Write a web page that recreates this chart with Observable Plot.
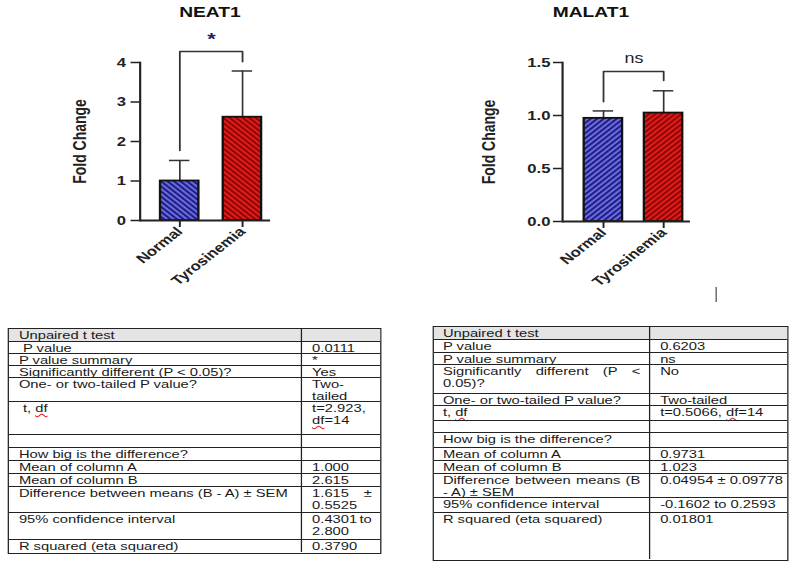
<!DOCTYPE html>
<html><head><meta charset="utf-8">
<script src="https://cdn.jsdelivr.net/npm/d3@7"></script>
<script src="https://cdn.jsdelivr.net/npm/@observablehq/plot@0.6"></script>
<style>
html,body{margin:0;padding:0;background:#fff;}
#root{position:absolute;left:0;top:0;width:621px;height:567px;transform:scaleX(1.28);transform-origin:0 0;font-family:"Liberation Sans",Arial,sans-serif;color:#1a1a1a;overflow:visible;}
.title{position:absolute;top:4px;width:100px;font-weight:bold;font-size:15px;line-height:15px;text-align:center;color:#111;}
.chart{position:absolute;top:0;}
.chart svg{overflow:visible;}
.tbl{position:absolute;border:1.5px solid #222;box-sizing:border-box;}
.row{position:absolute;left:0;right:0;border-top:1px solid #222;box-sizing:border-box;}
.row.first{border-top:none;}
.cell{position:absolute;top:0;bottom:0;padding:0 7px 0 7.5px;font-size:11.5px;line-height:12px;white-space:pre;box-sizing:border-box;overflow:visible;}
.cell.b{border-left:1.2px solid #222;}
.head{background:#e4e4e4;}
.sq{text-decoration:underline wavy #e02020;text-decoration-thickness:1px;text-underline-offset:1px;}
.just{display:flex;justify-content:space-between;}
.mark{position:absolute;background:#555;}
</style></head>
<body>
<svg width="0" height="0" style="position:absolute">
  <defs>
    <pattern id="nb" width="3.6" height="3.6" patternUnits="userSpaceOnUse" patternTransform="rotate(-45)">
      <rect width="3.6" height="3.6" fill="#6c6ce6"/><rect width="1.8" height="3.6" fill="#1d1d7c"/>
    </pattern>
    <pattern id="nr" width="3.6" height="3.6" patternUnits="userSpaceOnUse" patternTransform="rotate(-45)">
      <rect width="3.6" height="3.6" fill="#e41c1c"/><rect width="1.8" height="3.6" fill="#8c0606"/>
    </pattern>
    <pattern id="mb" width="3.6" height="3.6" patternUnits="userSpaceOnUse" patternTransform="rotate(45)">
      <rect width="3.6" height="3.6" fill="#6c6ce6"/><rect width="1.8" height="3.6" fill="#1d1d7c"/>
    </pattern>
    <pattern id="mr" width="3.6" height="3.6" patternUnits="userSpaceOnUse" patternTransform="rotate(45)">
      <rect width="3.6" height="3.6" fill="#e41c1c"/><rect width="1.8" height="3.6" fill="#8c0606"/>
    </pattern>
  </defs>
</svg>
<div id="root"></div>
<script>
// ---------------- data ----------------
const groups = ["Normal", "Tyrosinemia"];
const chartTitles = ["NEAT1", "MALAT1"];
const yLabel = "Fold Change";

const neatMean = [1.000, 2.615];
const neatErr = [0.52, 1.17];
const neatTicks = [0, 1, 2, 3, 4];
const neatBracket = [1.77, 4.28, 4.02];   // left leg end, bar top, right leg end
const neatSig = "*";
const neatSigY = 4.58;

const malatMean = [0.9731, 1.023];
const malatErr = [0.07, 0.21];
const malatTicks = [0, 0.5, 1.0, 1.5];
const malatBracket = [1.13, 1.415, 1.33];
const malatSig = "ns";
const malatSigY = 1.54;

const leftColA = ["Unpaired t test", " P value", "P value summary", "Significantly different (P < 0.05)?",
  "One- or two-tailed P value?", " t, df", "", "How big is the difference?", "Mean of column A",
  "Mean of column B", "Difference between means (B - A) ± SEM", "95% confidence interval", "R squared (eta squared)"];
const leftColB = ["", "0.0111", "*", "Yes", "Two-\ntailed", "t=2.923,\ndf=14", "", "", "1.000", "2.615",
  "1.615 ±\n0.5525", "0.4301 to\n2.800", "0.3790"];

const rightColA = ["Unpaired t test", "P value", "P value summary", "Significantly different (P <\n0.05)?",
  "One- or two-tailed P value?", "t, df", "", "How big is the difference?", "Mean of column A",
  "Mean of column B", "Difference between means (B\n- A) ± SEM", "95% confidence interval", "R squared (eta squared)"];
const rightColB = ["", "0.6203", "ns", "No", "Two-tailed", "t=0.5066, df=14", "", "", "0.9731", "1.023",
  "0.04954 ± 0.09778", "-0.1602 to 0.2593", "0.01801"];

// ---------------- layout ----------------
const root = document.getElementById("root");

function addTitle(text, cx) {
  const d = document.createElement("div");
  d.className = "title";
  d.style.left = (cx - 50) + "px";
  d.textContent = text;
  root.appendChild(d);
}

function barChart(o) {
  const rows = groups.map((g, i) => ({g, m: o.mean[i], top: o.mean[i] + o.err[i]}));
  const br = [
    {g: groups[0], y: o.bracket[0]}, {g: groups[0], y: o.bracket[1]},
    {g: groups[1], y: o.bracket[1]}, {g: groups[1], y: o.bracket[2]}
  ];
  const step = (o.range[1] - o.range[0]) / (2 - o.pi);
  const H = 300;
  const svg = Plot.plot({
    width: o.width, height: H,
    marginLeft: o.ml, marginRight: o.mr, marginTop: o.mt, marginBottom: H - o.y0,
    style: {fontFamily: "'Liberation Sans', Arial, sans-serif", fontSize: "12px", fontWeight: "bold", color: "#222", background: "transparent", overflow: "visible"},
    x: {domain: groups, range: o.range, paddingInner: o.pi, paddingOuter: 0, label: null},
    y: {domain: o.domain, label: null},
    marks: [
      Plot.axisY({ticks: o.ticks, tickFormat: o.fmt, tickSize: 7, tickPadding: o.tp, strokeWidth: 1.5, label: null, fontSize: 13}),
      Plot.axisX({tickSize: 7, tickRotate: -45, tickPadding: 2, strokeWidth: 1.5, label: null, fontSize: 13}),
      Plot.text([yLabel], {text: d => d, frameAnchor: "left", dx: o.labelDx, rotate: -90, lineAnchor: "top", textAnchor: "middle", fontSize: 14, fontWeight: "bold", fill: "#222"}),
      Plot.ruleX(rows, {x: "g", y1: "m", y2: "top", stroke: "#333", strokeWidth: 1.3}),
      Plot.tickY(rows, {x: "g", y: "top", inset: 7, stroke: "#333", strokeWidth: 1.5}),
      Plot.barY(rows, {filter: d => d.g === groups[0], x: "g", y: "m", fill: o.fills[0], stroke: "#111", strokeWidth: 1.8}),
      Plot.barY(rows, {filter: d => d.g === groups[1], x: "g", y: "m", fill: o.fills[1], stroke: "#111", strokeWidth: 1.8}),
      Plot.frame({anchor: "left", stroke: "#222", strokeWidth: 1.7}),
      Plot.ruleY([0], {stroke: "#222", strokeWidth: 2}),
      Plot.line(br, {x: "g", y: "y", stroke: "#333", strokeWidth: 1.4}),
      Plot.text([{g: groups[0], y: o.sigY, t: o.sig}], {x: "g", y: "y", text: "t", dx: step / 2, fontSize: o.sigSize, fontWeight: o.sigWeight, fill: o.sigColor})
    ]
  });
  const wrap = document.createElement("div");
  wrap.className = "chart";
  wrap.style.left = o.left + "px";
  wrap.appendChild(svg);
  root.appendChild(wrap);
}

addTitle(chartTitles[0], 164);
addTitle(chartTitles[1], 461.7);

barChart({
  left: 40, width: 190, ml: 69, mr: 19, mt: 62, y0: 220,
  range: [85, 164], pi: 0.396,
  mean: neatMean, err: neatErr, domain: [0, 4], ticks: neatTicks, fmt: d3.format("d"), tp: 4,
  bracket: neatBracket, sig: neatSig, sigY: neatSigY, sigSize: 17, sigWeight: "bold", sigColor: "#1a2660",
  fills: ["url(#nb)", "url(#nr)"], labelDx: -52
});

barChart({
  left: 360, width: 190, ml: 79, mr: 11, mt: 62, y0: 221,
  range: [95.5, 173.6], pi: 0.36,
  mean: malatMean, err: malatErr, domain: [0, 1.5], ticks: malatTicks, fmt: d3.format(".1f"), tp: 2.5,
  bracket: malatBracket, sig: malatSig, sigY: malatSigY, sigSize: 14, sigWeight: "normal", sigColor: "#222",
  fills: ["url(#mb)", "url(#mr)"], labelDx: -63
});

// small vertical mark right of MALAT1
const mk = document.createElement("div");
mk.className = "mark";
Object.assign(mk.style, {left: "558.6px", top: "287px", width: "1.6px", height: "15px"});
root.appendChild(mk);

// ---------------- tables ----------------
function addText(el, str) {
  const parts = str.split("df");
  parts.forEach((p, i) => {
    if (i) { const s = document.createElement("span"); s.className = "sq"; s.textContent = "df"; el.appendChild(s); }
    el.appendChild(document.createTextNode(p));
  });
}
function fillCell(cell, text, justify) {
  const lines = text.split("\n");
  lines.forEach((line, i) => {
    const div = document.createElement("div");
    if (justify && i < lines.length - 1) {
      div.className = "just";
      line.split(" ").forEach(w => { const s = document.createElement("span"); addText(s, w); div.appendChild(s); });
    } else {
      addText(div, line.length ? line : " ");
    }
    cell.appendChild(div);
  });
}
function buildTable(t) {
  const tbl = document.createElement("div");
  tbl.className = "tbl";
  const total = t.heights.reduce((a, b) => a + b, 0);
  Object.assign(tbl.style, {left: t.left + "px", top: t.top + "px", width: t.width + "px", height: (total + 3) + "px"});
  let y = 0;
  t.A.forEach((a, i) => {
    const row = document.createElement("div");
    row.className = "row" + (i === 0 ? " first head" : "");
    Object.assign(row.style, {top: y + "px", height: t.heights[i] + "px"});
    const ca = document.createElement("div");
    ca.className = "cell";
    Object.assign(ca.style, {left: "0px", width: t.colA + "px"});
    fillCell(ca, a, t.justA.includes(i));
    const cb = document.createElement("div");
    cb.className = "cell b";
    Object.assign(cb.style, {left: t.colA + "px", right: "0px"});
    fillCell(cb, t.B[i], t.justB.includes(i));
    row.appendChild(ca); row.appendChild(cb);
    tbl.appendChild(row);
    y += t.heights[i];
  });
  root.appendChild(tbl);
}

buildTable({
  left: 6.25, top: 328, width: 292.2, colA: 228.1,
  heights: [12, 12, 12, 12, 24, 33, 13, 13, 13, 13, 26, 27, 13],
  A: leftColA, B: leftColB, justA: [], justB: [10, 11]
});
buildTable({
  left: 337.5, top: 326, width: 278.9, colA: 168.75,
  heights: [12, 13, 12, 29, 12, 15, 12, 15, 13, 13, 24, 15, 47],
  A: rightColA, B: rightColB, justA: [3, 10], justB: []
});
</script>
</body></html>
